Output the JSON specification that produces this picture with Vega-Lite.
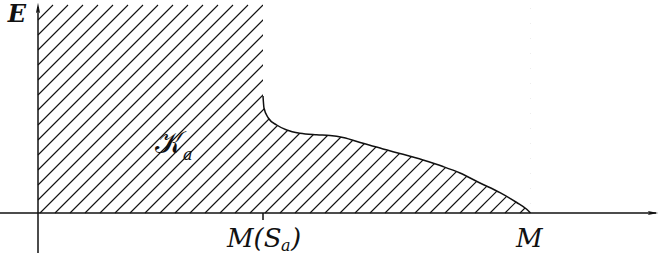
{
  "$schema": "https://vega.github.io/schema/vega-lite/v6.json",
  "width": 664,
  "height": 255,
  "padding": 0,
  "autosize": "none",
  "background": "white",
  "config": {"view": {"stroke": null}},
  "datasets": {
    "hatch": [
      {"x": 0, "y": 193, "x2": 15, "y2": 208},
      {"x": 0, "y": 178, "x2": 30, "y2": 208},
      {"x": 0, "y": 163, "x2": 45, "y2": 208},
      {"x": 0, "y": 148, "x2": 60, "y2": 208},
      {"x": 0, "y": 133, "x2": 75, "y2": 208},
      {"x": 0, "y": 118, "x2": 90, "y2": 208},
      {"x": 0, "y": 103, "x2": 105, "y2": 208},
      {"x": 0, "y": 88, "x2": 120, "y2": 208},
      {"x": 0, "y": 73, "x2": 135, "y2": 208},
      {"x": 0, "y": 58, "x2": 150, "y2": 208},
      {"x": 0, "y": 43, "x2": 165, "y2": 208},
      {"x": 0, "y": 28, "x2": 180, "y2": 208},
      {"x": 0, "y": 13, "x2": 195, "y2": 208},
      {"x": 2, "y": 0, "x2": 210, "y2": 208},
      {"x": 17, "y": 0, "x2": 225, "y2": 208},
      {"x": 32, "y": 0, "x2": 240, "y2": 208},
      {"x": 47, "y": 0, "x2": 255, "y2": 208},
      {"x": 62, "y": 0, "x2": 270, "y2": 208},
      {"x": 77, "y": 0, "x2": 285, "y2": 208},
      {"x": 92, "y": 0, "x2": 300, "y2": 208},
      {"x": 107, "y": 0, "x2": 315, "y2": 208},
      {"x": 122, "y": 0, "x2": 330, "y2": 208},
      {"x": 137, "y": 0, "x2": 345, "y2": 208},
      {"x": 152, "y": 0, "x2": 360, "y2": 208},
      {"x": 167, "y": 0, "x2": 375, "y2": 208},
      {"x": 182, "y": 0, "x2": 390, "y2": 208},
      {"x": 197, "y": 0, "x2": 405, "y2": 208},
      {"x": 212, "y": 0, "x2": 420, "y2": 208},
      {"x": 227, "y": 0, "x2": 435, "y2": 208},
      {"x": 242, "y": 0, "x2": 450, "y2": 208},
      {"x": 257, "y": 0, "x2": 465, "y2": 208},
      {"x": 272, "y": 0, "x2": 480, "y2": 208},
      {"x": 287, "y": 0, "x2": 492, "y2": 205},
      {"x": 302, "y": 0, "x2": 492, "y2": 190},
      {"x": 317, "y": 0, "x2": 492, "y2": 175},
      {"x": 332, "y": 0, "x2": 492, "y2": 160},
      {"x": 347, "y": 0, "x2": 492, "y2": 145},
      {"x": 362, "y": 0, "x2": 492, "y2": 130},
      {"x": 377, "y": 0, "x2": 492, "y2": 115},
      {"x": 392, "y": 0, "x2": 492, "y2": 100},
      {"x": 407, "y": 0, "x2": 492, "y2": 85},
      {"x": 422, "y": 0, "x2": 492, "y2": 70},
      {"x": 437, "y": 0, "x2": 492, "y2": 55},
      {"x": 452, "y": 0, "x2": 492, "y2": 40},
      {"x": 467, "y": 0, "x2": 492, "y2": 25},
      {"x": 482, "y": 0, "x2": 492, "y2": 10}
    ],
    "curve": [
      {"x": 225, "y": 117},
      {"x": 226, "y": 105},
      {"x": 230.3, "y": 95},
      {"x": 238.7, "y": 88},
      {"x": 248.7, "y": 83},
      {"x": 262, "y": 79.7},
      {"x": 278.7, "y": 78.2},
      {"x": 292, "y": 77.5},
      {"x": 305, "y": 75.5},
      {"x": 325, "y": 69.7},
      {"x": 345, "y": 64},
      {"x": 365, "y": 58.7},
      {"x": 385, "y": 53},
      {"x": 405, "y": 46.5},
      {"x": 422, "y": 40},
      {"x": 442, "y": 30},
      {"x": 462, "y": 20.3},
      {"x": 478.7, "y": 10.5},
      {"x": 488.7, "y": 3.7},
      {"x": 492.5, "y": 0}
    ],
    "axes": [
      {"x": -38, "y": 0, "x2": 618, "y2": 0},
      {"x": 0, "y": -40, "x2": 0, "y2": 206},
      {"x": 225, "y": 0, "x2": 225, "y2": -7}
    ],
    "arrowX": [{"x": 615, "y": 0}],
    "arrowY": [{"x": 0, "y": 205}],
    "labelsMain": [
      {"x": 189, "y": -34, "t": "M(S"},
      {"x": 253, "y": -34, "t": ")"},
      {"x": 478, "y": -34, "t": "M"}
    ],
    "labelsSub": [
      {"x": 243, "y": -38, "t": "a"},
      {"x": 145, "y": 53, "t": "a"}
    ],
    "labelK": [{"x": 131, "y": 60, "t": "𝒦"}],
    "labelE": [{"x": -21, "y": 191, "t": "E"}]
  },
  "encoding": {
    "x": {"field": "x", "type": "quantitative", "scale": {"domain": [-38, 626]}, "axis": null},
    "y": {"field": "y", "type": "quantitative", "scale": {"domain": [-42, 213]}, "axis": null}
  },
  "layer": [
    {
      "data": {"name": "hatch"},
      "mark": {"type": "rule", "color": "#111111", "strokeWidth": 1.1},
      "encoding": {"x2": {"field": "x2"}, "y2": {"field": "y2"}}
    },
    {
      "data": {"name": "curve"},
      "mark": {"type": "area", "color": "white", "opacity": 1, "interpolate": "monotone"},
      "encoding": {"y2": {"datum": 215}}
    },
    {
      "data": {"name": "curve"},
      "mark": {"type": "line", "color": "#111111", "strokeWidth": 1.5, "interpolate": "monotone"},
      "encoding": {}
    },
    {
      "data": {"name": "axes"},
      "mark": {"type": "rule", "color": "#111111", "strokeWidth": 1.5},
      "encoding": {"x2": {"field": "x2"}, "y2": {"field": "y2"}}
    },
    {
      "data": {"name": "arrowX"},
      "mark": {"type": "point", "shape": "M-1,-0.4L1,0L-1,0.4L-0.6,0Z", "filled": true, "color": "#111111", "size": 110, "opacity": 1}
    },
    {
      "data": {"name": "arrowY"},
      "mark": {"type": "point", "shape": "M-0.4,1L0,-1L0.4,1L0,0.6Z", "filled": true, "color": "#111111", "size": 110, "opacity": 1}
    },
    {
      "data": {"name": "labelsMain"},
      "mark": {"type": "text", "font": "DejaVu Serif", "fontStyle": "italic", "fontSize": 26, "align": "left", "baseline": "alphabetic", "color": "#111111"},
      "encoding": {"text": {"field": "t"}}
    },
    {
      "data": {"name": "labelsSub"},
      "mark": {"type": "text", "font": "DejaVu Serif", "fontStyle": "italic", "fontSize": 16, "align": "left", "baseline": "alphabetic", "color": "#111111"},
      "encoding": {"text": {"field": "t"}}
    },
    {
      "data": {"name": "labelK"},
      "mark": {"type": "text", "font": "DejaVu Serif", "fontSize": 30, "align": "center", "baseline": "alphabetic", "color": "#111111"},
      "encoding": {"text": {"field": "t"}}
    },
    {
      "data": {"name": "labelE"},
      "mark": {"type": "text", "font": "DejaVu Serif", "fontStyle": "italic", "fontWeight": "bold", "fontSize": 24, "align": "center", "baseline": "alphabetic", "color": "#111111"},
      "encoding": {"text": {"field": "t"}}
    }
  ]
}
